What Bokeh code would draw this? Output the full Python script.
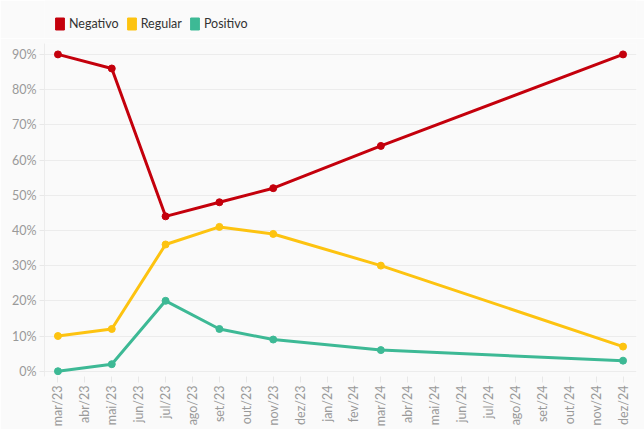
from bokeh.plotting import figure
from bokeh.layouts import column
from bokeh.models import Legend, LegendItem, NumeralTickFormatter, FixedTicker
from bokeh.embed import file_html
from bokeh.resources import INLINE

months = ["mar/23", "abr/23", "mai/23", "jun/23", "jul/23", "ago/23", "set/23", "out/23",
          "nov/23", "dez/23", "jan/24", "fev/24", "mar/24", "abr/24", "mai/24", "jun/24",
          "jul/24", "ago/24", "set/24", "out/24", "nov/24", "dez/24"]
dates = ["mar/23", "mai/23", "jul/23", "set/23", "nov/23", "mar/24", "dez/24"]
negativo = [0.90, 0.86, 0.44, 0.48, 0.52, 0.64, 0.90]
regular = [0.10, 0.12, 0.36, 0.41, 0.39, 0.30, 0.07]
positivo = [0.00, 0.02, 0.20, 0.12, 0.09, 0.06, 0.03]

series = [("Negativo", negativo, "#c4000c"), ("Regular", regular, "#fdc310"), ("Positivo", positivo, "#3db995")]

FONT = "Lato"
BG = "#fafafa"

# legend strip
lg = figure(width=644, height=38, x_range=(0, 1), y_range=(0, 1),
            output_backend="svg", toolbar_location=None,
            x_axis_location=None, y_axis_location=None,
            background_fill_color=BG, border_fill_color=BG,
            min_border=0)
lg.outline_line_color = None
lg.xgrid.visible = False
lg.ygrid.visible = False
items = []
for name, vals, col in series:
    r = lg.rect(x=[5], y=[5], width=1, height=1, fill_color=col, line_color=col)
    items.append(LegendItem(label=name, renderers=[r]))
legend = Legend(items=items, orientation="horizontal", location=(10, 7),
                glyph_width=11, glyph_height=15, label_standoff=4, spacing=7,
                padding=0, margin=0, border_line_alpha=0, background_fill_alpha=0,
                label_height=15,
                label_text_font=FONT, label_text_font_size="12.5px", label_text_color="#333333")
lg.add_layout(legend)

p = figure(width=644, height=391, x_range=months, y_range=(-0.015, 0.931),
           output_backend="svg", toolbar_location=None,
           background_fill_color=BG, border_fill_color=BG,
           min_border_left=44, min_border_right=8, min_border_bottom=50, min_border_top=5)
p.outline_line_color = None

for name, vals, col in series:
    p.line(dates, vals, line_color=col, line_width=3)
    p.scatter(dates, vals, size=7, fill_color=col, line_color=col)

p.yaxis.ticker = FixedTicker(ticks=[i / 10 for i in range(10)])
p.yaxis.formatter = NumeralTickFormatter(format="0%")
p.xaxis.major_label_orientation = 1.5708
for ax in (p.xaxis, p.yaxis):
    ax.axis_line_color = None
    ax.major_tick_line_color = "#e8e8e8"
    ax.minor_tick_line_color = None
    ax.major_label_text_color = "#999999"
    ax.major_label_text_font = FONT
    ax.major_label_text_font_size = "12.5px"
    ax.major_label_standoff = 3
p.yaxis.axis_line_color = "#ececec"
p.xaxis.major_tick_in = 0
p.xaxis.major_tick_out = 6
p.yaxis.major_tick_out = 5
p.yaxis.major_tick_in = 0
p.xgrid.grid_line_color = None
p.ygrid.grid_line_color = "#ececec"

open("out.html", "w").write(file_html(column(lg, p, spacing=0), INLINE))
